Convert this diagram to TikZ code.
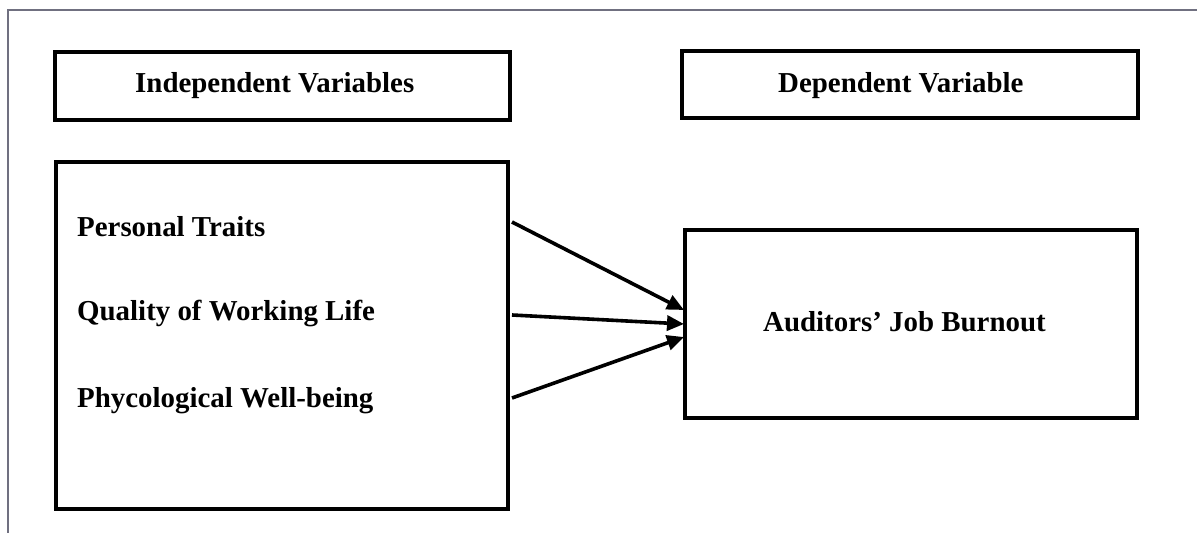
\documentclass[tikz,border=0pt]{standalone}
\usepackage{fontspec}
\setmainfont{Liberation Serif}
\usetikzlibrary{arrows.meta}
\definecolor{framegray}{RGB}{112,112,128}
\begin{document}
\begin{tikzpicture}[x=1bp,y=-1bp,
  box/.style={draw=black,line width=3.5bp,inner sep=0pt},
  lbl/.style={anchor=base west,inner sep=0pt,font=\bfseries\fontsize{29}{34}\selectfont},
  arr/.style={line width=3.6bp,-{Triangle[length=17bp,width=15bp]}},
  frame/.style={draw=framegray,line width=1.2bp}]
\useasboundingbox (0,0) rectangle (1197,533);
% page frame
\coordinate (f0) at (8,533);
\coordinate (f1) at (8,10);
\coordinate (f2) at (1197,10);
\draw[frame] (f0) -- (f1) -- (f2);
% header boxes
\node[box,minimum width=455bp,minimum height=68bp] (ivbox) at (282.5,86) {};
\node[box,minimum width=456bp,minimum height=67bp] (dvbox) at (910,84.5) {};
\node[lbl] (ivtxt) at (135,93) {Independent Variables};
\node[lbl] (dvtxt) at (778,93) {Dependent Variable};
% main boxes
\node[box,minimum width=452bp,minimum height=347bp] (left) at (282,335.5) {};
\node[box,minimum width=452bp,minimum height=188bp] (right) at (911,324) {};
\node[lbl] (pt) at (77,237) {Personal Traits};
\node[lbl] (qwl) at (77,321) {Quality of Working Life};
\node[lbl] (pwb) at (77,407) {Phycological Well-being};
\node[lbl] (ajb) at (763,332) {Auditors’ Job Burnout};
% arrows
\coordinate (s1) at (512,222);
\coordinate (s2) at (512,315);
\coordinate (s3) at (512,398);
\coordinate (t1) at (684,310);
\coordinate (t2) at (684,324);
\coordinate (t3) at (684,337);
\draw[arr] (s1) -- (t1);
\draw[arr] (s2) -- (t2);
\draw[arr] (s3) -- (t3);
\end{tikzpicture}
\end{document}
